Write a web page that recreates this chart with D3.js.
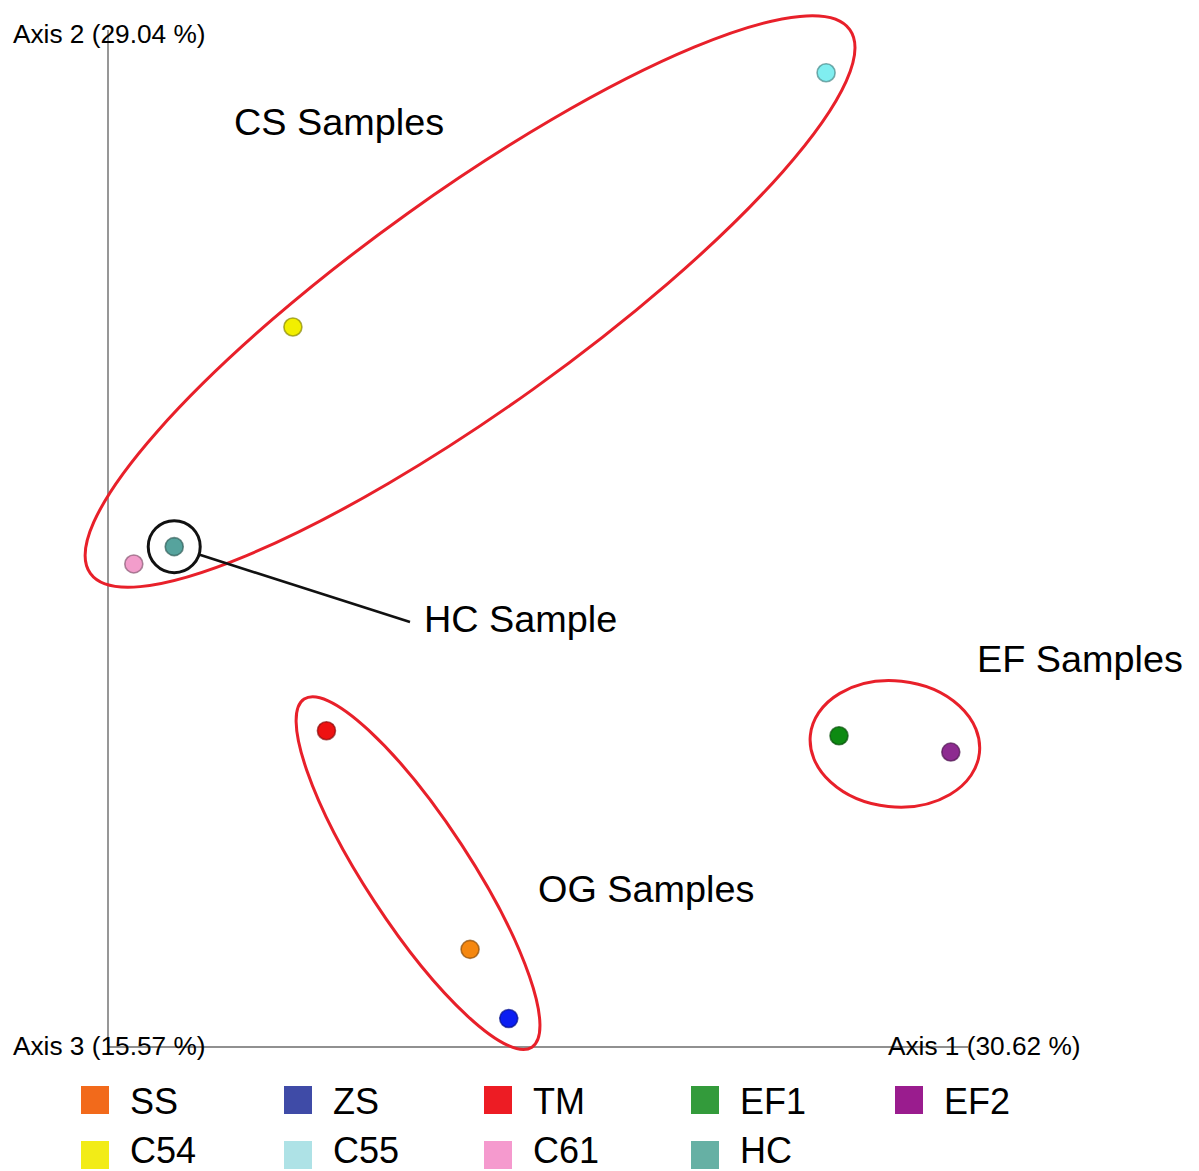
<!DOCTYPE html>
<html>
<head>
<meta charset="utf-8">
<script src="https://cdn.jsdelivr.net/npm/d3@7"></script>
<style>
  html, body { margin: 0; padding: 0; background: #fff; }
  svg { display: block; }
  text { font-family: "Liberation Sans", Arial, Helvetica, sans-serif; fill: #000; }
</style>
</head>
<body>
<svg id="chart" width="1199" height="1171"></svg>
<script>
// PCoA ordination (projected view of axes 1 and 2)
const samples   = ["SS", "ZS", "TM", "EF1", "EF2", "C54", "C55", "C61", "HC"];
const axis1     = [42.1, 46.6, 25.4, 85.0, 98.0, 21.5, 83.5, 3.0, 7.7];
const axis2     = [9.6, 2.8, 31.1, 30.6, 29.0, 70.8, 95.8, 47.5, 49.2];
const pointColors  = ["#f5870f", "#0b1ef2", "#ee1111", "#0d8a12", "#8d2b90", "#f2ef00", "#80eef0", "#f29dcb", "#56a39d"];
const legendColors = ["#f26a1b", "#3f4ba7", "#ed1c24", "#339b3b", "#9a1c8e", "#f2ec17", "#aee2e6", "#f59ace", "#66b0a4"];

// axis titles
const axisTitles = ["Axis 1 (30.62 %)", "Axis 2 (29.04 %)", "Axis 3 (15.57 %)"];

// sample groups highlighted with ellipses (centre in data units)
const groupNames   = ["CS Samples", "OG Samples", "EF Samples"];
const groupCentreX = [42.1, 36.05, 91.5];
const groupCentreY = [73.3, 17.1, 29.8];

const svg = d3.select("#chart");

const x = d3.scaleLinear().domain([0, 100]).range([108, 968]);
const y = d3.scaleLinear().domain([0, 100]).range([1047, 30]);

// text is drawn slightly wide
const stretch = 1.05;
function wideText(g, str, tx, ty, size) {
  return g.append("text")
    .attr("transform", `translate(${tx},${ty}) scale(${stretch},1)`)
    .attr("font-size", size)
    .text(str);
}

// axis lines
const axes = svg.append("g").attr("stroke", "#6b6b6b").attr("stroke-width", 1.4);
axes.append("line")
  .attr("x1", x(0)).attr("x2", x(0))
  .attr("y1", y(100)).attr("y2", y(0));
axes.append("line")
  .attr("x1", x(0)).attr("x2", x(100))
  .attr("y1", y(0)).attr("y2", y(0));

// axis titles (drawn over the axis lines)
const titleSize = 25;
wideText(svg, axisTitles[1], 13, 43, titleSize);
wideText(svg, axisTitles[2], 13, 1055, titleSize);
wideText(svg, axisTitles[0], 888, 1055, titleSize);

// group ellipses
const ellipseShape = [
  { rx: 467, ry: 108, rot: -35.6 },
  { rx: 208, ry: 52,  rot: 56.8 },
  { rx: 85,  ry: 63,  rot: 6 }
];
const ellipses = svg.append("g");
groupNames.forEach((name, i) => {
  const s = ellipseShape[i];
  ellipses.append("ellipse")
    .attr("transform", `translate(${x(groupCentreX[i])},${y(groupCentreY[i])}) rotate(${s.rot})`)
    .attr("rx", s.rx).attr("ry", s.ry)
    .attr("fill", "none")
    .attr("stroke", "#e8202a")
    .attr("stroke-width", 3);
});

// sample points
const pts = samples.map((s, i) => ({ name: s, a1: axis1[i], a2: axis2[i], color: pointColors[i] }));
svg.append("g").selectAll("circle")
  .data(pts)
  .join("circle")
  .attr("cx", d => x(d.a1))
  .attr("cy", d => y(d.a2))
  .attr("r", 9)
  .attr("fill", d => d.color)
  .attr("stroke", d => d3.color(d.color).darker(1.6))
  .attr("stroke-opacity", 0.7)
  .attr("stroke-width", 1.6);

// HC call-out
const hc = pts[samples.indexOf("HC")];
const hx = x(hc.a1), hy = y(hc.a2), hr = 26;
svg.append("circle")
  .attr("cx", hx).attr("cy", hy).attr("r", hr)
  .attr("fill", "none").attr("stroke", "#111").attr("stroke-width", 3);
const ang = Math.atan2(622 - hy, 410 - hx);
svg.append("line")
  .attr("x1", hx + hr * Math.cos(ang)).attr("y1", hy + hr * Math.sin(ang))
  .attr("x2", 410).attr("y2", 622)
  .attr("stroke", "#111").attr("stroke-width", 2.6);

// group labels
const labelSize = 36;
const labels = g => [
  { t: groupNames[0], x: 234, y: 135 },
  { t: "HC Sample",   x: 424, y: 632 },
  { t: groupNames[2], x: 977, y: 672 },
  { t: groupNames[1], x: 538, y: 902 }
].forEach(d => wideText(g, d.t, d.x, d.y, labelSize));
labels(svg.append("g"));

// legend: 5 columns x 2 rows
const legend = svg.append("g");
const colX = [81, 284, 484, 691, 895];
const rowY = [1086, 1141];
samples.forEach((s, i) => {
  const row = Math.floor(i / 5);
  const cx = colX[i % 5], cy = rowY[row];
  legend.append("rect")
    .attr("x", cx).attr("y", cy)
    .attr("width", 28).attr("height", 28)
    .attr("fill", legendColors[i]);
  legend.append("text")
    .attr("x", cx + 49).attr("y", row === 0 ? cy + 28 : cy + 22)
    .attr("font-size", 36)
    .text(s);
});
</script>
</body>
</html>
